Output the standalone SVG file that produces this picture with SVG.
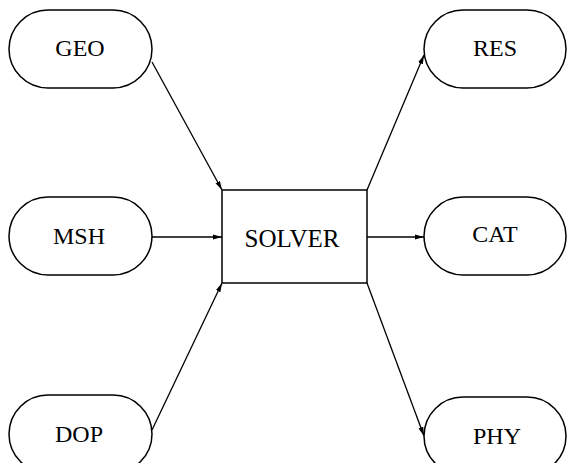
<svg xmlns="http://www.w3.org/2000/svg" width="576" height="463" viewBox="0 0 576 463">
<style>
.n{fill:#fff;stroke:#000;stroke-width:1.5}
.t{font-family:"Liberation Serif","Times New Roman",serif;font-size:24px;fill:#000;text-anchor:middle}
.c{stroke:#000;stroke-width:1.3;fill:none;marker-end:url(#a)}
</style>
<defs>
<marker id="a" markerWidth="9" markerHeight="6" refX="9" refY="3" orient="auto" markerUnits="userSpaceOnUse">
<path d="M0,0.5 L9,3 L0,5.5 Z" fill="#000"/>
</marker>
</defs>
<rect width="576" height="463" fill="#fff"/>
<g id="connectors">
<line class="c" x1="152" y1="62" x2="222" y2="190"/>
<line class="c" x1="152" y1="237" x2="222" y2="237"/>
<line class="c" x1="152" y1="430" x2="222" y2="283"/>
<line class="c" x1="367" y1="190" x2="424" y2="55"/>
<line class="c" x1="367" y1="237" x2="424" y2="237"/>
<line class="c" x1="367" y1="283" x2="424" y2="436"/>
</g>
<g id="GEO"><rect class="n" x="9" y="10" width="143" height="78" rx="39" ry="39"/><text class="t" x="80" y="56">GEO</text></g>
<g id="MSH"><rect class="n" x="9" y="197" width="143" height="78" rx="39" ry="39"/><text class="t" x="79" y="244">MSH</text></g>
<g id="DOP"><rect class="n" x="9" y="395" width="143" height="78" rx="39" ry="39"/><text class="t" x="79" y="442">DOP</text></g>
<g id="SOLVER"><rect x="222" y="190" width="145" height="93" fill="#fff" stroke="#000" stroke-width="1.5"/><text class="t" x="292" y="247" style="font-size:25px">SOLVER</text></g>
<g id="RES"><rect class="n" x="424" y="10" width="142" height="78" rx="39" ry="39"/><text class="t" x="495" y="56">RES</text></g>
<g id="CAT"><rect class="n" x="424" y="197" width="142" height="78" rx="39" ry="39"/><text class="t" x="495" y="242">CAT</text></g>
<g id="PHY"><rect class="n" x="424" y="397" width="142" height="78" rx="39" ry="39"/><text class="t" x="497" y="444">PHY</text></g>
</svg>
